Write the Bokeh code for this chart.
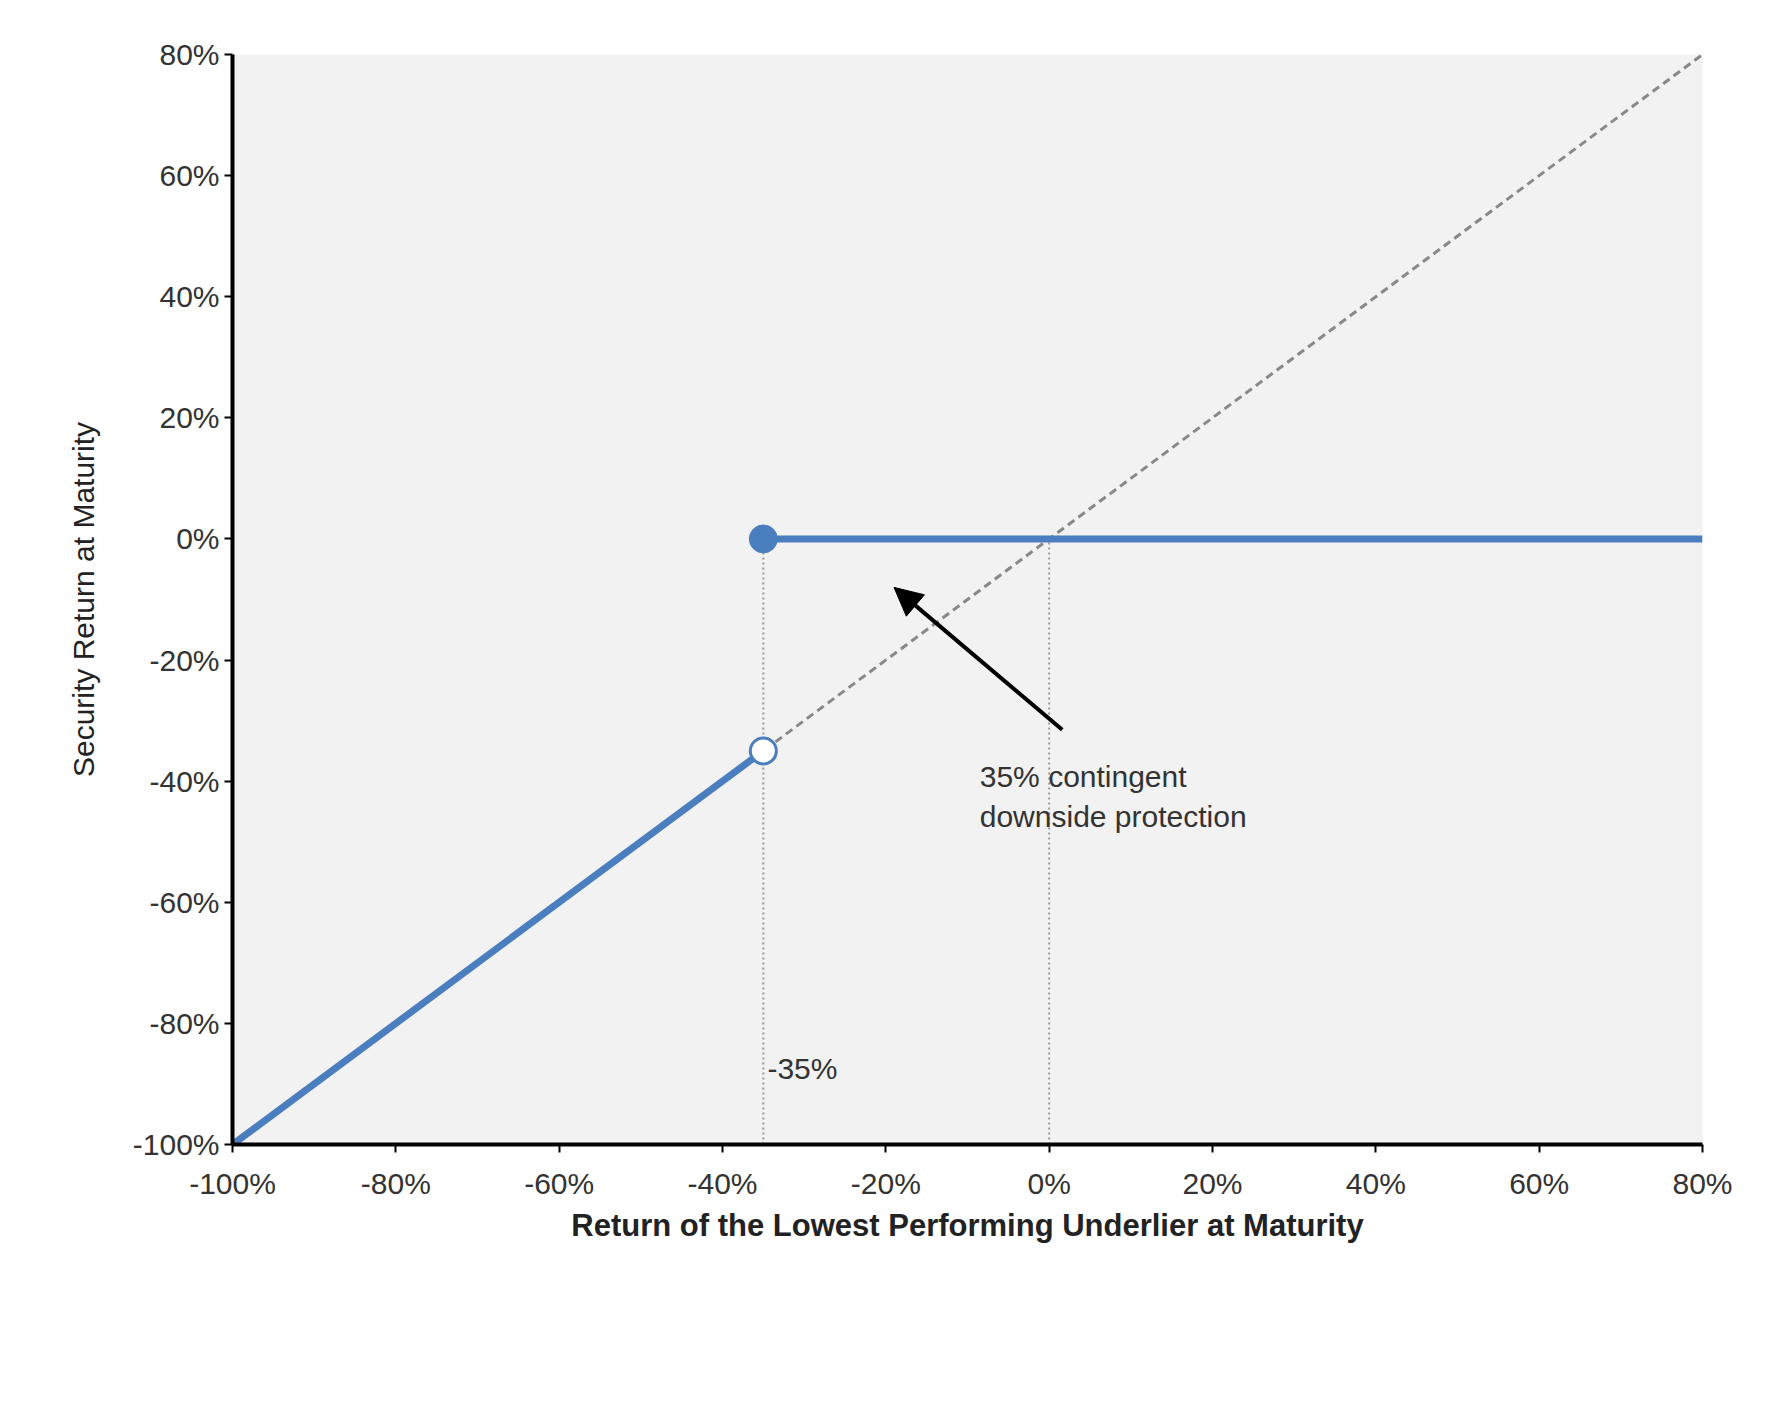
from bokeh.plotting import figure
from bokeh.models import FixedTicker, Arrow, NormalHead, Label, Legend, LegendItem, Range1d
from bokeh.embed import file_html
from bokeh.resources import INLINE

x_ticks = [-100, -80, -60, -40, -20, 0, 20, 40, 60, 80]
y_ticks = [-100, -80, -60, -40, -20, 0, 20, 40, 60, 80]
barrier = -35
sec_lower_x = [-100, -35]
sec_lower_y = [-100, -35]
sec_upper_x = [-35, 80]
sec_upper_y = [0, 0]
under_x = [-100, 80]
under_y = [-100, 80]

FONT = "Liberation Sans"
p = figure(frame_width=1470, frame_height=1090, output_backend="svg", toolbar_location=None,
           x_range=Range1d(-100, 80), y_range=Range1d(-100, 80),
           min_border_left=232, min_border_right=55, min_border_top=54, min_border_bottom=10)
p.background_fill_color = "#f2f2f2"
p.border_fill_color = "white"
p.outline_line_color = None
p.xgrid.visible = False
p.ygrid.visible = False
for ax, ticks in ((p.xaxis[0], x_ticks), (p.yaxis[0], y_ticks)):
    ax.ticker = FixedTicker(ticks=ticks)
    ax.major_label_overrides = {t: f"{t}%" for t in ticks}
    ax.axis_line_color = "black"
    ax.axis_line_width = 4
    ax.major_tick_line_color = "black"
    ax.major_tick_line_width = 2
    ax.major_tick_out = 8
    ax.major_tick_in = 0
    ax.minor_tick_line_color = None
    ax.major_label_text_font = FONT
    ax.major_label_text_font_size = "30px"
    ax.major_label_text_color = "#333333"
    ax.axis_label_text_font = FONT
    ax.axis_label_text_font_size = "31px"
    ax.axis_label_text_font_style = "bold"
    ax.axis_label_text_color = "#222222"
p.xaxis.axis_label = "Return of the Lowest Performing Underlier at Maturity"
p.xaxis.major_label_standoff = 14
p.yaxis.axis_label = "Security Return at Maturity"
p.yaxis.axis_label_text_font_style = "normal"
p.yaxis.axis_label_text_font_size = "30px"
p.yaxis.axis_label_standoff = 30

for xv in (barrier, 0):
    p.line([xv, xv], [-100, 0], line_color="#999999", line_width=2, line_dash="2 3")
r_under = p.line(under_x, under_y, line_color="#888888", line_width=3, line_dash="8 5")
r_sec = p.line(sec_lower_x, sec_lower_y, line_color="#4a7ebf", line_width=7)
p.line(sec_upper_x, sec_upper_y, line_color="#4a7ebf", line_width=7)
p.scatter([barrier], [0], size=28, fill_color="#4a7ebf", line_color="#4a7ebf")
p.scatter([barrier], [barrier], size=26, fill_color="white", line_color="#4a7ebf", line_width=3)

p.add_layout(Arrow(end=NormalHead(size=28, fill_color="black", line_color="black"),
                   x_start=1.6, y_start=-31.5, x_end=-19, y_end=-8, line_width=4, line_color="black"))
p.add_layout(Label(x=-8.5, y=-36.5, text="35% contingent\ndownside protection", text_font=FONT,
                   text_font_size="30px", text_color="#333333", text_baseline="top"))
p.add_layout(Label(x=-34.5, y=-87.5, text="-35%", text_font=FONT, text_font_size="30px",
                   text_color="#333333", text_baseline="middle"))

legend = Legend(items=[LegendItem(label="Hypotheical Security Return", renderers=[r_sec]),
                       LegendItem(label="Hypothetical Return of the Lowest Performing Underlier", renderers=[r_under])],
                orientation="horizontal", label_text_font=FONT, label_text_font_size="30px",
                label_text_color="#333333", glyph_width=130, spacing=90, border_line_color=None,
                margin=30, location="center", padding=10)
p.add_layout(legend, "below")

open("out.html", "w").write(file_html(p, INLINE))
